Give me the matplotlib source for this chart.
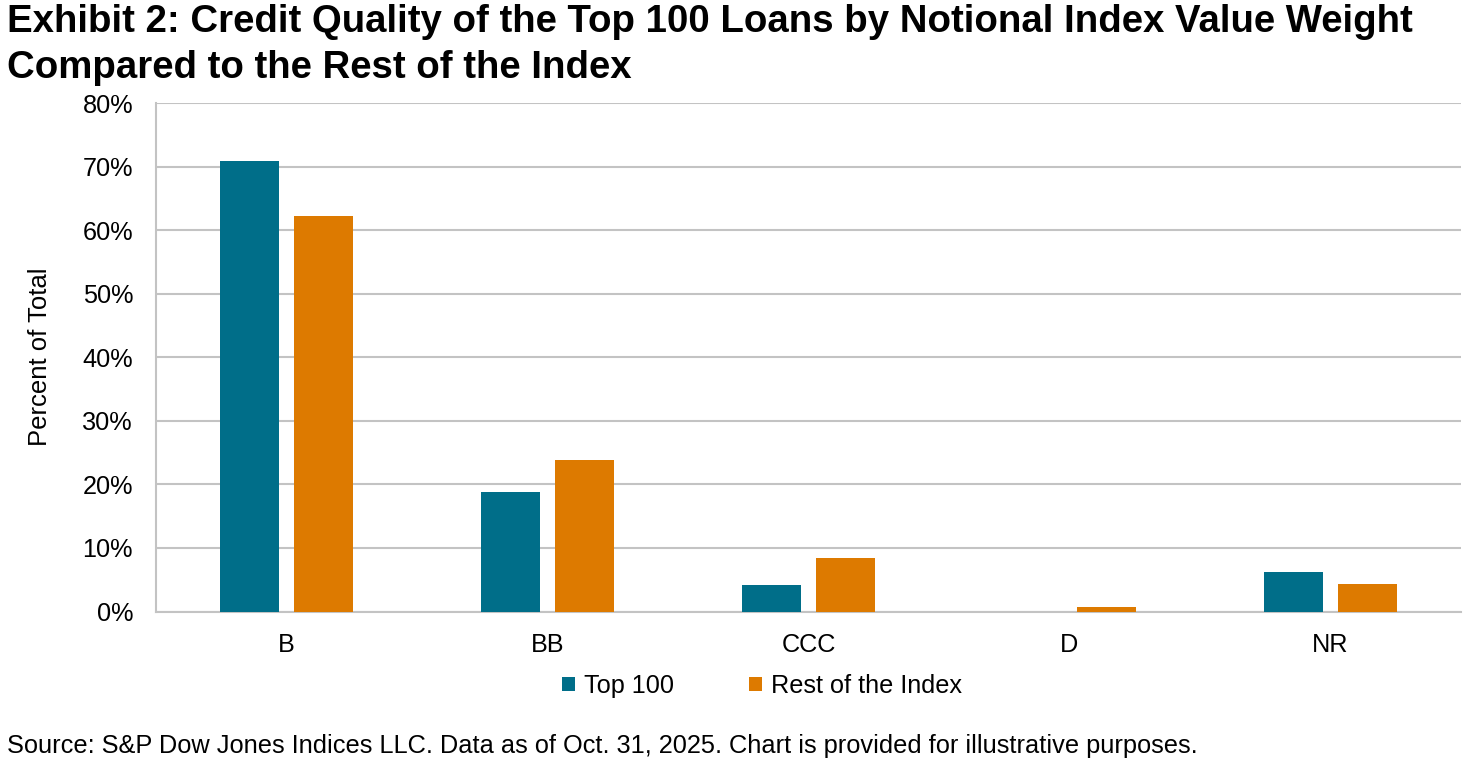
import matplotlib
matplotlib.use("Agg")
import matplotlib.pyplot as plt
import numpy as np

categories = ["B", "BB", "CCC", "D", "NR"]
top100 = [70.8, 18.8, 4.2, 0.0, 6.2]
rest_of_index = [62.3, 23.9, 8.4, 0.7, 4.3]
series_names = ["Top 100", "Rest of the Index"]
yticks = [0, 10, 20, 30, 40, 50, 60, 70, 80]
ytick_labels = [f"{v}%" for v in yticks]

plt.rcParams['font.family'] = ['Liberation Sans', 'DejaVu Sans']

TEAL = "#006E89"
ORANGE = "#DD7A00"
GRID = "#C3C3C3"

fig = plt.figure(figsize=(14.75, 7.65), dpi=100)
ax = fig.add_axes([156/1475, 1 - 611.5/765, (1461-156)/1475, (611.5-103)/765])

x = np.arange(len(categories))
w = 0.226
off = 0.142
ax.bar(x - off, top100, width=w, color=TEAL, label=series_names[0], zorder=3)
ax.bar(x + off, rest_of_index, width=w, color=ORANGE, label=series_names[1], zorder=3)

ax.set_xlim(-0.5, len(categories) - 0.5)
ax.set_ylim(0, 80)
ax.set_yticks(yticks)
ax.set_yticklabels(ytick_labels, fontsize=18.2)
ax.set_xticks(x)
ax.set_xticklabels(categories, fontsize=18.2)
ax.tick_params(axis='both', length=0)
ax.tick_params(axis='y', pad=16.5)
ax.tick_params(axis='x', pad=15.5)
ax.yaxis.grid(True, color=GRID, linewidth=1.5, zorder=0)
ax.set_axisbelow(True)
for s in ["top", "right"]:
    ax.spines[s].set_visible(False)
for s in ["left", "bottom"]:
    ax.spines[s].set_color(GRID)
    ax.spines[s].set_linewidth(1.5)

fig.text(40/1475, 1 - 357/765, "Percent of Total", rotation=90, fontsize=18.5,
         ha='center', va='center')

fig.text(7/1475, 1 - 22/765, "Exhibit 2: Credit Quality of the Top 100 Loans by Notional Index Value Weight",
         fontsize=27.6, fontweight='bold', ha='left', va='center')
fig.text(7/1475, 1 - 68/765, "Compared to the Rest of the Index",
         fontsize=27.6, fontweight='bold', ha='left', va='center')

leg = fig.legend(loc='center', bbox_to_anchor=(762/1475, 1 - 686/765), ncol=2, frameon=False,
                 fontsize=18.2, handlelength=0.5, handleheight=0.5, handletextpad=0.35,
                 columnspacing=3.0)

fig.text(7/1475, 1 - 746/765,
         "Source: S&P Dow Jones Indices LLC. Data as of Oct. 31, 2025. Chart is provided for illustrative purposes.",
         fontsize=18.3, ha='left', va='center')

fig.savefig("out.png", dpi=100)
